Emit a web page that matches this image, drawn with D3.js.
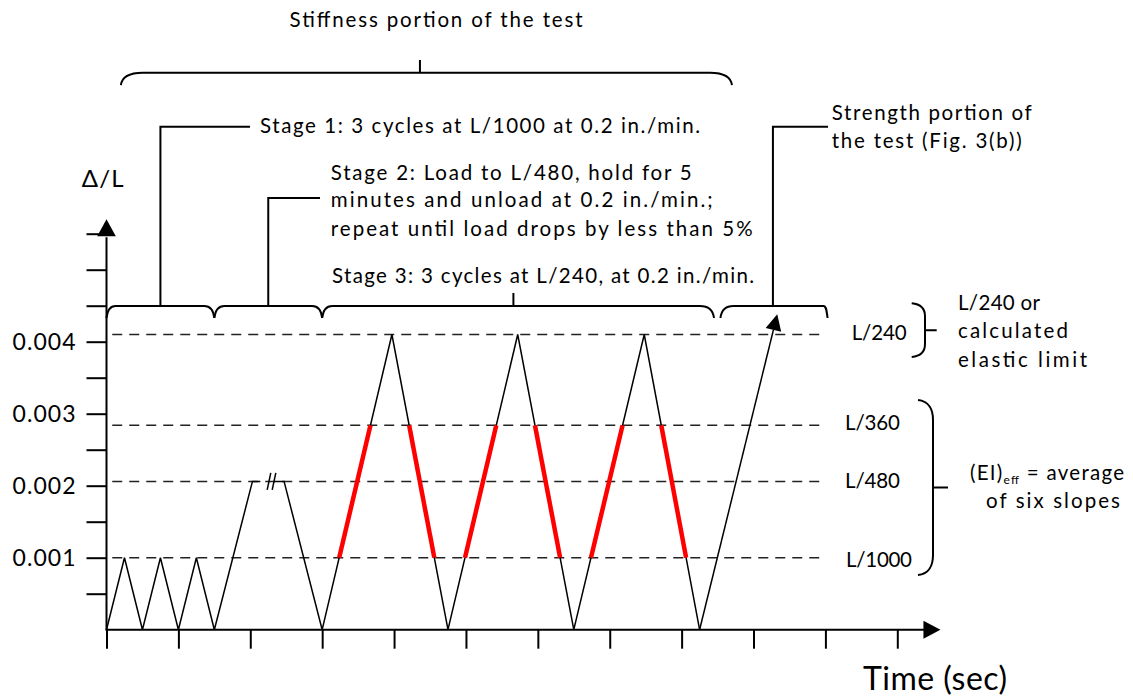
<!DOCTYPE html>
<html><head><meta charset="utf-8">
<script src="https://cdn.jsdelivr.net/npm/d3@7"></script>
<style>
body{margin:0;background:#fff}
svg text{font-family:Lato,"Open Sans",sans-serif;fill:#000}
</style></head><body>
<svg id="c" width="1133" height="698"></svg>
<script>
// ---------------- data ----------------
const timeTicks = [0,1,2,3,4,5,6,7,8,9,10,11];
const yTickValues = [0.0005,0.001,0.0015,0.002,0.0025,0.003,0.0035,0.004,0.0045,0.005,0.0055];
const yTickLabelValues = [0.001,0.002,0.003,0.004];
const limitNames = ["L/240","L/360","L/480","L/1000"];
const limitValues = [0.0041,0.00284,0.00206,0.001];
// load history (null = hold break)
const loadTime = [0,0.25,0.5,0.75,1,1.25,1.5,2.03,2.14,null,2.33,2.47,3.0,3.97,4.75,5.72,6.5,7.48,8.25];
const loadDefl = [0,0.001,0,0.001,0,0.001,0,0.00206,0.00206,null,0.00206,0.00206,0,0.0041,0,0.0041,0,0.0041,0];
const breakTimes = [2.26,2.33];
const stage3Start = 12; // index in load arrays where stage 3 begins
const slopeLow = 0.001, slopeHigh = 0.00284;  // L/1000 .. L/360
const strengthTime = [8.25,9.33];
const strengthDefl = [0,0.00438];

// ---------------- layout ----------------
const svg = d3.select("#c");
const x = d3.scaleLinear().domain([0,11]).range([106.5,897.3]);
const y = d3.scaleLinear().domain([0,0.0055]).range([629.7,233.7]);
const xAxisEnd = 11.6, yAxisEnd = 0.0057;
const FONT = 20.5;

function txt(str,x0,y0,size,width,anchor){
  const t = svg.append("text").attr("x",x0).attr("y",y0)
    .attr("font-size",size).attr("text-anchor",anchor||"start").text(str);
  if(width){ t.attr("textLength",width).attr("lengthAdjust","spacing"); }
  return t;
}
function arrowHead(tx,ty,dx,dy,len,hw){
  const L = Math.hypot(dx,dy), ux=dx/L, uy=dy/L;
  const bx = tx-ux*len, by = ty-uy*len;
  svg.append("polygon").attr("points",
    [[tx,ty],[bx-uy*hw,by+ux*hw],[bx+uy*hw,by-ux*hw]].map(p=>p.join(",")).join(" "))
    .attr("fill","#000");
  return [bx,by];
}

// dashed limit lines
svg.append("g").selectAll("line").data(limitValues).join("line")
  .attr("x1",x(0.08)).attr("x2",x(9.93))
  .attr("y1",d=>y(d)).attr("y2",d=>y(d))
  .attr("stroke","#222").attr("stroke-width",1.5).attr("stroke-dasharray","10,7");

// axes ticks
const gy = svg.append("g").attr("transform",`translate(${x(0)},0)`)
  .call(d3.axisLeft(y).tickValues(yTickValues).tickSize(20).tickPadding(11)
    .tickFormat(d=> yTickLabelValues.some(v=>Math.abs(v-d)<1e-9) ? d3.format(".3f")(d) : ""));
gy.select(".domain").remove();
gy.selectAll(".tick line").attr("stroke","#000").attr("stroke-width",2);
gy.selectAll(".tick text").attr("font-size",23).attr("font-family","Lato")
  .each(function(){ if(this.textContent) d3.select(this).attr("textLength",63).attr("lengthAdjust","spacing"); });

const gx = svg.append("g").attr("transform",`translate(0,${y(0)})`)
  .call(d3.axisBottom(x).tickValues(timeTicks).tickSize(19).tickFormat(""));
gx.select(".domain").remove();
gx.selectAll(".tick line").attr("stroke","#000").attr("stroke-width",2);

// axis lines with arrows
const yb = arrowHead(x(0),y(yAxisEnd),0,-1,17,9.3);
svg.append("line").attr("x1",x(0)).attr("y1",y(0)).attr("x2",x(0)).attr("y2",yb[1]+1)
  .attr("stroke","#000").attr("stroke-width",2);
const xb = arrowHead(x(xAxisEnd),y(0),1,0,17,9);
svg.append("line").attr("x1",x(0)-1).attr("y1",y(0)).attr("x2",xb[0]+1).attr("y2",y(0))
  .attr("stroke","#000").attr("stroke-width",2);

// load history
const pts = loadTime.map((t,i)=>({t,v:loadDefl[i]}));
const line = d3.line().defined(d=>d.t!==null).x(d=>x(d.t)).y(d=>y(d.v));
svg.append("path").attr("d",line(pts)).attr("fill","none")
  .attr("stroke","#000").attr("stroke-width",1.5).attr("stroke-linejoin","miter");

// hold break slashes
svg.append("g").selectAll("line").data(breakTimes).join("line")
  .attr("x1",d=>x(d)+1.8).attr("x2",d=>x(d)-1.8)
  .attr("y1",y(0.00206)-8.5).attr("y2",y(0.00206)+8.5)
  .attr("stroke","#000").attr("stroke-width",1.5);

// red slope segments in stage 3
const red = [];
for(let i=stage3Start;i<loadTime.length-1;i++){
  const a=pts[i], b=pts[i+1];
  const tAt = v => a.t + (v-a.v)/(b.v-a.v)*(b.t-a.t);
  red.push({t1:tAt(slopeLow),t2:tAt(slopeHigh)});
}
svg.append("g").selectAll("line").data(red).join("line")
  .attr("x1",d=>x(d.t1)).attr("y1",y(slopeLow))
  .attr("x2",d=>x(d.t2)).attr("y2",y(slopeHigh))
  .attr("stroke","#ff0000").attr("stroke-width",4.5);

// strength arrow
{
  const x1=x(strengthTime[0]), y1=y(strengthDefl[0]), x2=x(strengthTime[1]), y2=y(strengthDefl[1]);
  const b = arrowHead(x2,y2,x2-x1,y2-y1,16,8);
  svg.append("line").attr("x1",x1).attr("y1",y1).attr("x2",b[0]).attr("y2",b[1])
    .attr("stroke","#000").attr("stroke-width",1.5);
}

// ---------------- braces ----------------
const BS = "#000", BW = 2;
function braceDown(x0,x1,yt,drop,r0,r1){
  const yb = yt+drop;
  svg.append("path").attr("d",
    `M${x0},${yb} C${x0+1},${yt+drop*0.3} ${x0+r0*0.4},${yt} ${x0+r0},${yt} L${x1-r1},${yt} C${x1-r1*0.4},${yt} ${x1-1},${yt+drop*0.3} ${x1},${yb}`)
    .attr("fill","none").attr("stroke",BS).attr("stroke-width",BW);
}
function braceRight(xo,xi,ytop,ybot,r,tickLen){
  const ym=(ytop+ybot)/2;
  svg.append("path").attr("d",
    `M${xo},${ytop} C${xi-r*0.2},${ytop+1} ${xi},${ytop+r*0.5} ${xi},${ytop+r} L${xi},${ybot-r} C${xi},${ybot-r*0.5} ${xi-r*0.2},${ybot-1} ${xo},${ybot} M${xi},${ym} L${xi+tickLen},${ym}`)
    .attr("fill","none").attr("stroke",BS).attr("stroke-width",BW);
}
function seg(pts){
  svg.append("path").attr("d",d3.line()(pts)).attr("fill","none").attr("stroke",BS).attr("stroke-width",BW);
}
const BY = 306, BD = 12;
braceDown(x(0),x(1.5),BY,BD,9,10);
braceDown(x(1.5),x(3.0),BY,BD,10,10);
braceDown(x(3.0),x(8.45),BY,BD,10,14);
braceDown(x(8.54),x(10.03),BY,BD,13,4);
braceDown(x(0.2),x(8.7),72.7,12.5,22,22);
// leaders
seg([[x(0.75),BY],[x(0.75),126.7],[250,126.7]]);
seg([[x(2.25),BY],[x(2.25),198],[320,198]]);
seg([[x(9.27),BY],[x(9.27),126.7],[828,126.7]]);
seg([[x(5.66),BY],[x(5.66),293]]);
seg([[x(4.36),72.7],[x(4.36),60]]);
// right braces
braceRight(911.7,925,303.3,357,13,11.7);
braceRight(918,933,400,575,20,15);

// ---------------- texts ----------------
txt("Stiffness portion of the test",289.6,27,FONT,293);
txt("Stage 1: 3 cycles at L/1000 at 0.2 in./min.",260,133.3,FONT,440);
txt("Stage 2: Load to L/480, hold for 5",330.7,180,FONT,361);
txt("minutes and unload at 0.2 in./min.;",330.7,207.3,FONT,382);
txt("repeat until load drops by less than 5%",330.7,236,FONT,422);
txt("Stage 3: 3 cycles at L/240, at 0.2 in./min.",332,282.7,FONT,422);
txt("Strength portion of",831.7,120,FONT,200);
txt("the test (Fig. 3(b))",831.7,148.3,FONT,190);
const limitLabelX = [851.7,845,845,846];
const limitLabelDy = [5.5,4.8,7,9.6];
const limitLabelW = [55,55,55,66];
limitNames.forEach((n,i)=>txt(n,limitLabelX[i],y(limitValues[i])+limitLabelDy[i],FONT,limitLabelW[i]));
txt("L/240 or",958,310,FONT,82);
txt("calculated",958,338.3,FONT,110);
txt("elastic limit",958,367,FONT,129);
{
  const t = svg.append("text").attr("x",970).attr("y",480).attr("font-size",FONT)
    .attr("textLength",154).attr("lengthAdjust","spacing");
  t.append("tspan").text("(EI)");
  t.append("tspan").attr("font-size",12).attr("dy",4).text("eff");
  t.append("tspan").attr("dy",-4).text(" = average");
}
txt("of six slopes",986,508.3,FONT,134);
txt("\u0394/L",81.7,186.7,24,42);
txt("Time (sec)",863,690,32,144);
</script></body></html>
